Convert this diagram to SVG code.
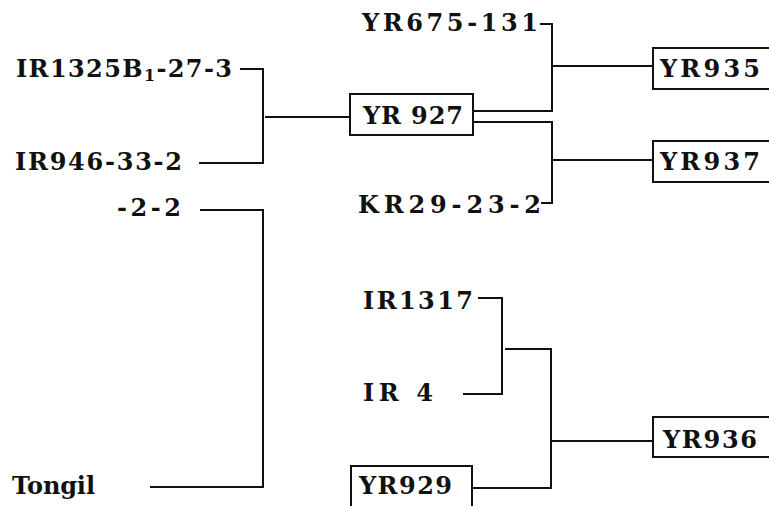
<svg xmlns="http://www.w3.org/2000/svg" width="769" height="506" viewBox="0 0 769 506">
<style>
.t text{font-family:'DejaVu Serif','Liberation Serif',serif;font-weight:bold;font-size:24px;fill:#111}
.ln{fill:none;stroke:#111;stroke-width:2}
.bx{fill:#fff;stroke:#111;stroke-width:2}
</style>
<rect width="769" height="506" fill="#fff"/>
<g id="connectors" class="ln">
<path d="M240 69H263V163H199"/>
<path d="M265 117H350"/>
<path d="M200 210H263V487H150"/>
<path d="M473 111H552V24H540"/>
<path d="M473 122H552V203H541"/>
<path d="M552 66H653"/>
<path d="M552 160H653"/>
<path d="M478 298H502V394H463"/>
<path d="M505 349H551V488H472"/>
<path d="M551 441H653"/>
</g>
<g class="t">
<g id="n-ir1325"><text x="16" y="77" textLength="216" lengthAdjust="spacing">IR1325B<tspan font-size="16" dy="4">1</tspan><tspan dy="-4">-27-3</tspan></text></g>
<g id="n-ir946"><text x="15" y="170" textLength="167" lengthAdjust="spacing">IR946-33-2</text></g>
<g id="n-22"><text x="117" y="216" textLength="64" lengthAdjust="spacing">-2-2</text></g>
<g id="n-tongil"><text x="12" y="494" textLength="83" lengthAdjust="spacing">Tongil</text></g>
<g id="n-yr927"><rect class="bx" x="350" y="94" width="123" height="41"/><text x="363" y="124" textLength="100" lengthAdjust="spacing">YR 927</text></g>
<g id="n-yr675"><text x="362" y="31" textLength="176" lengthAdjust="spacing">YR675-131</text></g>
<g id="n-kr29"><text x="358" y="213" textLength="183" lengthAdjust="spacing">KR29-23-2</text></g>
<g id="n-yr935"><rect class="bx" x="653" y="48" width="120" height="41"/><text x="660" y="77" textLength="100" lengthAdjust="spacing">YR935</text></g>
<g id="n-yr937"><rect class="bx" x="653" y="141" width="120" height="41"/><text x="660" y="170" textLength="100" lengthAdjust="spacing">YR937</text></g>
<g id="n-ir1317"><text x="363" y="309" textLength="110" lengthAdjust="spacing">IR1317</text></g>
<g id="n-ir4"><text x="363" y="401" textLength="70" lengthAdjust="spacing">IR 4</text></g>
<g id="n-yr936"><rect class="bx" x="653" y="417" width="120" height="40"/><text x="663" y="448" textLength="94" lengthAdjust="spacing">YR936</text></g>
<g id="n-yr929"><rect class="bx" x="351" y="466" width="121" height="50"/><text x="359" y="494" textLength="93" lengthAdjust="spacing">YR929</text></g>
</g>
</svg>
